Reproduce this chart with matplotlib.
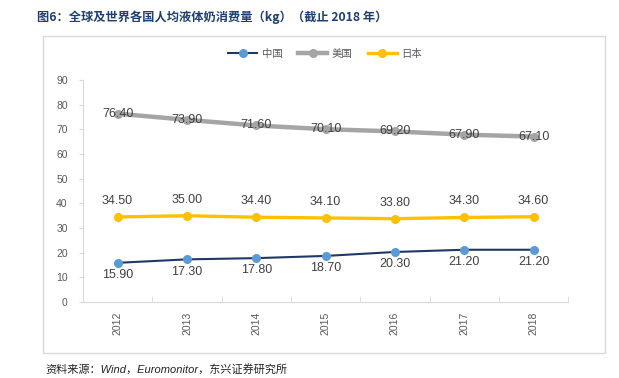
import matplotlib.pyplot as plt
from matplotlib.patches import Rectangle
import numpy as np

plt.rcParams['font.family'] = ['Liberation Sans', 'Noto Sans CJK SC', 'DejaVu Sans']

years = ['2012', '2013', '2014', '2015', '2016', '2017', '2018']
china = [15.90, 17.30, 17.80, 18.70, 20.30, 21.20, 21.20]
usa = [76.40, 73.90, 71.60, 70.10, 69.20, 67.90, 67.10]
japan = [34.50, 35.00, 34.40, 34.10, 33.80, 34.30, 34.60]
yticks = [0, 10, 20, 30, 40, 50, 60, 70, 80, 90]

fig = plt.figure(figsize=(6.19, 3.78), dpi=100)

# outer chart frame
fig.patches.append(Rectangle((0.069, 0.066), 0.908, 0.839, transform=fig.transFigure,
                             fill=False, edgecolor='#d9d9d9', linewidth=1.0))

fig.text(0.06, 0.955, '图6：全球及世界各国人均液体奶消费量（kg）（截止 2018 年）',
         fontsize=8.8, fontweight='bold', color='#1f3f6e',
         family=['Noto Sans CJK SC', 'DejaVu Sans'], va='center')
fig.text(0.073, 0.022, '资料来源：Wind，Euromonitor，东兴证券研究所',
         fontsize=8, style='italic', color='#222222',
         family=['Liberation Sans', 'Noto Sans CJK SC'], va='center')

ax = fig.add_axes([0.134, 0.201, 0.784, 0.587])
x = np.arange(len(years))

ax.plot(x, usa, color='#a5a5a5', linewidth=3.2, marker='o', markersize=5.5,
        label='美国', zorder=3)
ax.plot(x, japan, color='#ffc000', linewidth=2.4, marker='o', markersize=5.5,
        label='日本', zorder=3)
ax.plot(x, china, color='#1f3864', linewidth=1.5, marker='o', markersize=5.5,
        markerfacecolor='#5b9bd5', markeredgecolor='#5b9bd5', label='中国', zorder=3)

lab = dict(fontsize=9, color='#404040', ha='center', zorder=4)
for i in x:
    ax.text(i, usa[i], f'{usa[i]:.2f}', va='center', **lab)
    ax.text(i, japan[i] + 6.5, f'{japan[i]:.2f}', va='center', **lab)
    ax.text(i, china[i] - 5, f'{china[i]:.2f}', va='center', **lab)

ax.set_xlim(-0.5, 6.5)
ax.set_ylim(0, 90)
ax.set_yticks(yticks)
ax.set_xticks(x)
ax.set_xticklabels(years, rotation=90)
ax.set_xticks(np.arange(-0.5, 7, 1), minor=True)
ax.tick_params(axis='x', which='major', length=0, pad=7, labelsize=7.5, labelcolor='#595959')
ax.tick_params(axis='x', which='minor', length=4, direction='in', color='#d9d9d9')
ax.tick_params(axis='y', length=3, color='#d9d9d9', labelsize=7.5, labelcolor='#595959', pad=8)
for s in ['top', 'right']:
    ax.spines[s].set_visible(False)
for s in ['left', 'bottom']:
    ax.spines[s].set_color('#d9d9d9')

handles, labels = ax.get_legend_handles_labels()
order = [2, 0, 1]
leg = fig.legend([handles[i] for i in order], [labels[i] for i in order],
                 loc='center', bbox_to_anchor=(0.525, 0.857), ncol=3, frameon=False,
                 handlelength=2.8, columnspacing=1.5, handletextpad=0.4,
                 prop={'family': ['Noto Sans CJK SC'], 'size': 7.5})
for t in leg.get_texts():
    t.set_color('#595959')

fig.savefig('out.png', dpi=100)
